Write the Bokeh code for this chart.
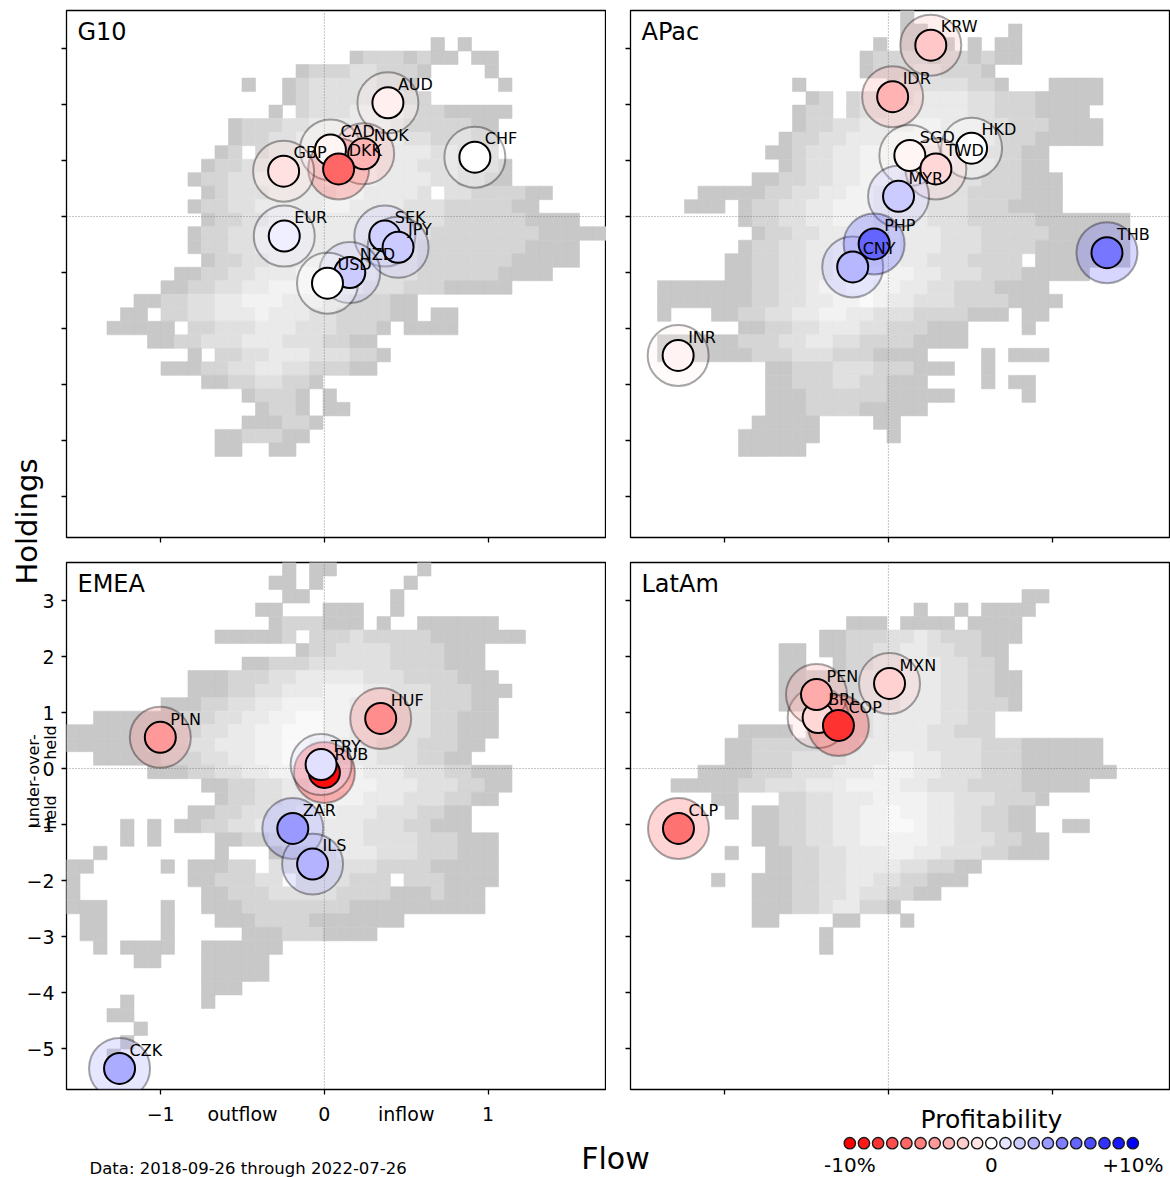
import math
from bokeh.plotting import figure
from bokeh.models import (Range1d, FixedTicker, Label, Span, ColumnDataSource,
                          LinearColorMapper)
from bokeh.layouts import row, column
from bokeh.transform import transform
from bokeh.embed import file_html
from bokeh.resources import INLINE
from bokeh.core.properties import value

FONT = "DejaVu Sans"

# ---------------- axes ----------------
X_RANGE = [-1.575, 1.723]          # Flow
Y_RANGE = [-5.732, 3.679]          # Holdings
X_TICKS = [-1, 0, 1]
X_LABEL_POS = [-1, -0.5, 0, 0.5, 1]
X_LABELS = ["\u22121", "outflow", "0", "inflow", "1"]
Y_TICKS = [-5, -4, -3, -2, -1, 0, 1, 2, 3]
Y_TICK_LABELS = ["\u22125", "\u22124", "\u22123", "\u22122", "\u22121", "0", "1", "2", "3"]
Y_SIDE_TICKS = [-0.5, 0.5]
Y_SIDE_WORDS = [["under-", "held"], ["over-", "held"]]

PANELS = ["G10", "APac", "EMEA", "LatAm"]

# ---------------- currencies ----------------
G10_CCY = ["AUD", "CAD", "NOK", "DKK", "GBP", "CHF", "EUR", "SEK", "JPY", "NZD", "USD"]
G10_FLOW = [0.388, 0.037, 0.240, 0.087, -0.249, 0.919, -0.245, 0.369, 0.450, 0.155, 0.019]
G10_HOLD = [2.03, 1.19, 1.12, 0.85, 0.81, 1.06, -0.35, -0.35, -0.55, -1.00, -1.19]
G10_PROFIT = [-0.6, -0.4, -3.0, -6.0, -1.2, 0.0, 0.6, 1.8, 2.0, 2.0, 0.0]

APAC_CCY = ["KRW", "IDR", "SGD", "HKD", "TWD", "MYR", "CNY", "PHP", "THB", "INR"]
APAC_FLOW = [0.259, 0.026, 0.131, 0.508, 0.290, 0.062, -0.218, -0.087, 1.335, -1.284]
APAC_HOLD = [3.06, 2.14, 1.09, 1.22, 0.85, 0.36, -0.90, -0.49, -0.645, -2.48]
APAC_PROFIT = [-2.2, -3.0, -0.4, 0.0, -1.6, 2.0, 2.8, 6.0, 5.3, -0.5]

EMEA_CCY = ["PLN", "HUF", "RUB", "TRY", "ZAR", "ILS", "CZK"]
EMEA_FLOW = [-1.002, 0.344, 0.000, -0.020, -0.193, -0.072, -1.251]
EMEA_HOLD = [0.557, 0.895, -0.07, 0.07, -1.07, -1.707, -5.355]
EMEA_PROFIT = [-4.0, -4.5, -9.5, 1.2, 4.0, 3.0, 3.3]

LATAM_CCY = ["MXN", "BRL", "PEN", "COP", "CLP"]
LATAM_FLOW = [0.007, -0.429, -0.439, -0.305, -1.282]
LATAM_HOLD = [1.52, 0.91, 1.32, 0.77, -1.07]
LATAM_PROFIT = [-1.8, -1.6, -3.3, -8.0, -5.5]

LEGEND_PROFIT = [-10, -9, -8, -7, -6, -5, -4, -3, -2, -1, 0, 1, 2, 3, 4, 5, 6, 7, 8, 9, 10]
LEGEND_TICKS = [-10, 0, 10]
LEGEND_TICK_LABELS = ["-10%", "0", "+10%"]

# ---------------- history density (40 cols x 39 rows, top row first) ----------------
G10_HIST = [
    "........................................",
    "........................................",
    "...........................1.1..........",
    ".....................12221211.11........",
    ".................1222332221....1........",
    ".............1..1233333221......1.......",
    "................12333333322.............",
    "...............1.2333444432211111.......",
    "............12223344444432222211........",
    "............12233444444443322211........",
    "...........12.233444555444433222........",
    "..........12233444455554443332221.......",
    ".........122334444455554444332211.......",
    "..........12333444445544443.33222211....",
    ".........12233444445544443332222211.....",
    "..........1223344444444433332222221111..",
    ".........1223344444444433332222222211111",
    ".........12233444444443333222222221111..",
    "..........1223344444443333222222211111..",
    "........1122334445554443332222221111....",
    ".......11223344555544433322211111.......",
    ".....112233445554443322211..............",
    "....11.2233444544433222211.11...........",
    "...11111.223334443332221.1111...........",
    "......11223334443332211.................",
    ".........1.2233444333221................",
    ".......1112233443322211.................",
    "..........112233221.....................",
    ".............12221.1....................",
    "..............1221.11...................",
    ".............111221.....................",
    "...........1122211......................",
    "...........11..11.......................",
]
APAC_HIST = [
    "....................1...................",
    "....................11......1...........",
    "..................1.1111.1.11...........",
    ".................122221221211...........",
    ".................1222332221.............",
    "............1......233333221...1111.....",
    ".............12.2333344443322211111.....",
    "............122.233444444332221111......",
    "............12233444455444332221111.....",
    "...........122334445555443322211111.....",
    "..........112334455554443322211.........",
    "...........12334455555443332211.........",
    ".........11223344555444333222111........",
    ".....111112233445544443332222111........",
    "....111.122334455544443332221111........",
    "........12233445554444333222221111111...",
    ".........1223344555544433322222111111...",
    "........12233445555544433322221111111...",
    ".......1122334455555443332222.1111111...",
    ".......112233445566554433322211111......",
    "..11111112233455665544332221111.........",
    "..111111122334455654433322221111........",
    "..1...1122334455443332222111.11.........",
    "........11223344433222111....1..........",
    "..11111122233443322221111...............",
    "..11111112223332221111....1.111.........",
    "..........11222333222111..1.............",
    "..........112223322111....1.11..........",
    "..........11122222211111.....1..........",
    "..........111222211111..................",
    ".........11111....11....................",
    "........111111.....1....................",
    "........11111...........................",
]
EMEA_HIST = [
    "................1.11......1.............",
    "...............11.1......1..............",
    "................11......1...............",
    "..............11...111..1...............",
    "...............1222111.1..111111........",
    "...........111112.2223222221111111......",
    ".................12233332222111.........",
    ".............112223333332222111.........",
    ".........11122233444443332222111........",
    ".........111223344455544333222111.......",
    ".......1112233445555544433322211........",
    "..111111222334455665544433322111........",
    "11111112223344556665544433322111........",
    "1111112223344455665544433322211.........",
    "..1111122233445566554443332211..........",
    "......111223344556665544433322111.......",
    "..........11223344566554443332211.......",
    "...........122334455554443332211........",
    ".........112233445554443332211..........",
    "....1.1.1122334455544433322111..........",
    "....1.1....112233444443333222111........",
    "..1........1...12233444333222111........",
    "11.....1.11122.33443333222211111........",
    "1........1122233.3333222.2221111........",
    "1.........112223333322221112111.........",
    "111....1..111222222221111111111.........",
    ".11....1...11122221111111...............",
    ".11....1.....1112221111.................",
    "..1.1111..111111........................",
    ".....11...11111.........................",
    "..........11111.........................",
    "..........111...........................",
    "....1.....1.............................",
    "...11...................................",
    ".....1..................................",
    "....1...................................",
    "...1....................................",
]
LATAM_HIST = [
    "........................................",
    "........................................",
    ".............................11.........",
    ".....................1..1.1111..........",
    "................111.1111.1111...........",
    "..............112223343222111...........",
    "...........11.11223344332211............",
    "...........11..1223344433221............",
    "...........112222334444332211...........",
    "...........111222334444332211...........",
    "...........111222333444332221...........",
    ".............12233444443322.............",
    "........1111.22233444433222.............",
    ".......1122222333444443333222111111.....",
    ".......1122233334445544333222111111.....",
    ".....1111222333444555443332221111111....",
    "...1111122333444555544333222211111......",
    "......11...22334445555443332221.........",
    ".......1.112233445565544332211..........",
    ".........112233445566544332211..11......",
    ".........1122334455555443332211.........",
    ".......1..112233444554433322111.........",
    "..........1122334444332211..............",
    "......1..1112233443322111...............",
    ".........11122334332211.................",
    ".........11122344221....................",
    ".........11....11...1...................",
    "..............1.........................",
    "..............1.........................",
]
HIST_COLS, HIST_ROWS = 40, 39
GREYS = ["#c8c8c8", "#d5d5d5", "#e0e0e0", "#eaeaea", "#f2f2f2", "#f9f9f9"]

# ---------------- layout sizes (px) ----------------
FRAME_W, FRAME_H = 540, 527
STRIP_W = 61
LEFT_W, RIGHT_W = 545, 564
LEFT_MB, RIGHT_MB = 5, 24
TOP_MB_T, TOP_MB_B = 10, 23
BOT_MB_T, BOT_MB_B = 2, 11
TOP_H = TOP_MB_T + FRAME_H + TOP_MB_B
BOT_H = BOT_MB_T + FRAME_H + BOT_MB_B
FOOT_H = 1177 - TOP_H - BOT_H
TOTAL_W = STRIP_W + LEFT_W + RIGHT_W

# ---------------- colour scales ----------------
N_PAL = 255
PROFIT_PALETTE = []
for i in range(N_PAL):
    t = i / (N_PAL - 1)
    if t <= 0.5:
        s = t / 0.5
        rgb = (255, round(255 * s), round(255 * s))
    else:
        s = (t - 0.5) / 0.5
        rgb = (round(255 * (1 - s)), round(255 * (1 - s)), 255)
    PROFIT_PALETTE.append("#%02x%02x%02x" % rgb)
profit_mapper = LinearColorMapper(palette=PROFIT_PALETTE, low=-10, high=10)
grey_mapper = LinearColorMapper(palette=GREYS, low=0.5, high=6.5)

XR = Range1d(*X_RANGE)
YR = Range1d(*Y_RANGE)
X_PPU = FRAME_W / (X_RANGE[1] - X_RANGE[0])
Y_PPU = FRAME_H / (Y_RANGE[1] - Y_RANGE[0])


def hist_source(rows):
    dx = (X_RANGE[1] - X_RANGE[0]) / HIST_COLS
    dy = (Y_RANGE[1] - Y_RANGE[0]) / HIST_ROWS
    d = dict(left=[], right=[], bottom=[], top=[], shade=[])
    for r, line in enumerate(rows[:HIST_ROWS]):
        line = (line + "." * HIST_COLS)[:HIST_COLS]
        for k, ch in enumerate(line):
            if ch in "123456":
                d["left"].append(X_RANGE[0] + k * dx)
                d["right"].append(X_RANGE[0] + (k + 1) * dx)
                d["top"].append(Y_RANGE[1] - r * dy)
                d["bottom"].append(Y_RANGE[1] - (r + 1) * dy)
                d["shade"].append(int(ch))
    return ColumnDataSource(d)


def tick_axis(ax, ticks):
    ax.ticker = FixedTicker(ticks=ticks, minor_ticks=[])
    ax.axis_line_color = None
    ax.major_tick_out = 5
    ax.major_tick_in = 0
    ax.minor_tick_out = 0
    ax.minor_tick_in = 0
    ax.major_tick_line_color = "black"
    ax.major_tick_line_width = 1.3
    ax.major_label_text_color = None
    ax.major_label_text_font_size = "1px"
    ax.major_label_standoff = 0


def bare(p):
    p.grid.visible = False
    p.outline_line_color = None
    p.background_fill_color = "white"
    p.border_fill_color = "white"


def panel(name, ccy, flow, hold, profit, hist, width, height, mb_left, mb_top, mb_bottom):
    p = figure(width=width, height=height, x_range=XR, y_range=YR, output_backend="svg",
               toolbar_location=None, title=None,
               min_border_left=mb_left, min_border_right=0,
               min_border_top=mb_top, min_border_bottom=mb_bottom)
    bare(p)
    p.outline_line_color = "black"
    p.outline_line_width = 1.3
    tick_axis(p.yaxis[0], Y_TICKS)
    tick_axis(p.xaxis[0], X_TICKS)

    hs = hist_source(hist)
    p.quad(left="left", right="right", bottom="bottom", top="top", source=hs,
           fill_color=transform("shade", grey_mapper),
           line_color=transform("shade", grey_mapper), line_width=0.6, level="image")

    for dim in ("width", "height"):
        p.add_layout(Span(location=0, dimension=dim, line_color="#808080",
                          line_width=0.9, line_dash="1 2", level="underlay"))

    src = ColumnDataSource(dict(x=flow, y=hold, name=ccy, profit=profit))
    p.scatter("x", "y", source=src, size=61, marker="circle",
              fill_color=transform("profit", profit_mapper), fill_alpha=0.3,
              line_color="black", line_alpha=0.35, line_width=2)
    p.scatter("x", "y", source=src, size=31, marker="circle",
              fill_color=transform("profit", profit_mapper), fill_alpha=1.0,
              line_color="black", line_width=2)
    p.text("x", "y", text="name", source=src, x_offset=10, y_offset=-18.3,
           text_font=value(FONT), text_font_size="16px", text_color="black",
           text_align="left", text_baseline="middle")

    p.add_layout(Label(x=11, y=FRAME_H - 21, x_units="screen", y_units="screen", text=name,
                       text_font=FONT, text_font_size="24px", text_color="black",
                       text_baseline="middle", text_align="left"))
    return p


tl = panel(PANELS[0], G10_CCY, G10_FLOW, G10_HOLD, G10_PROFIT, G10_HIST,
           LEFT_W, TOP_H, LEFT_MB, TOP_MB_T, TOP_MB_B)
tr = panel(PANELS[1], APAC_CCY, APAC_FLOW, APAC_HOLD, APAC_PROFIT, APAC_HIST,
           RIGHT_W, TOP_H, RIGHT_MB, TOP_MB_T, TOP_MB_B)
bl = panel(PANELS[2], EMEA_CCY, EMEA_FLOW, EMEA_HOLD, EMEA_PROFIT, EMEA_HIST,
           LEFT_W, BOT_H, LEFT_MB, BOT_MB_T, BOT_MB_B)
br = panel(PANELS[3], LATAM_CCY, LATAM_FLOW, LATAM_HOLD, LATAM_PROFIT, LATAM_HIST,
           RIGHT_W, BOT_H, RIGHT_MB, BOT_MB_T, BOT_MB_B)

# ---------------- left strip: Holdings label + y tick labels (same holdings scale) ----------------
strip_y = Range1d(Y_RANGE[0] - BOT_MB_B / Y_PPU,
                  Y_RANGE[1] + (TOP_H + BOT_MB_T) / Y_PPU)
strip = figure(width=STRIP_W, height=TOP_H + BOT_H, x_range=Range1d(0, STRIP_W), y_range=strip_y,
               output_backend="svg", toolbar_location=None, title=None,
               x_axis_location=None, y_axis_location=None,
               min_border_left=0, min_border_right=0, min_border_top=0, min_border_bottom=0)
bare(strip)
for yv, lab in zip(Y_TICKS, Y_TICK_LABELS):
    strip.add_layout(Label(x=54, y=yv, x_units="screen", y_units="data", text=lab,
                           text_font=FONT, text_font_size="19px", text_color="black",
                           text_align="right", text_baseline="middle"))
# two-line rotated side labels: first word column, then "held" column (pixel shifts along y)
SIDE_SHIFT = [[-5, -16], [-14, -2]]
for yv, words, shifts in zip(Y_SIDE_TICKS, Y_SIDE_WORDS, SIDE_SHIFT):
    for word, xpos, sh in zip(words, (33, 49.5), shifts):
        strip.add_layout(Label(x=xpos, y=yv + sh / Y_PPU, x_units="screen", y_units="data",
                               text=word, angle=math.pi / 2, text_font=FONT,
                               text_font_size="16px", text_color="black",
                               text_align="center", text_baseline="middle"))
strip.add_layout(Label(x=26, y=TOP_H + BOT_H - 521, x_units="screen", y_units="screen",
                       text="Holdings", angle=math.pi / 2, text_font=FONT,
                       text_font_size="29px", text_color="black",
                       text_align="center", text_baseline="middle"))

# ---------------- footer: x tick labels, Flow, data note, profitability legend ----------------
PROFIT_PPU = 14.15
LEG_X0 = 849.3
foot = figure(width=TOTAL_W, height=FOOT_H,
              x_range=Range1d(X_RANGE[0] - (STRIP_W + LEFT_MB) / X_PPU,
                              X_RANGE[0] + (TOTAL_W - STRIP_W - LEFT_MB) / X_PPU),
              y_range=Range1d(0, FOOT_H), output_backend="svg", toolbar_location=None,
              title=None, x_axis_location=None, y_axis_location=None,
              min_border_left=0, min_border_right=0, min_border_top=0, min_border_bottom=0)
foot.extra_x_ranges = {"profit": Range1d(LEGEND_PROFIT[0] - LEG_X0 / PROFIT_PPU,
                                         LEGEND_PROFIT[0] + (TOTAL_W - LEG_X0) / PROFIT_PPU)}
bare(foot)
for xv, lab in zip(X_LABEL_POS, X_LABELS):
    foot.add_layout(Label(x=xv, y=FOOT_H - 13, x_units="data", y_units="screen", text=lab,
                          text_font=FONT, text_font_size="19px", text_color="black",
                          text_align="center", text_baseline="middle"))

leg = ColumnDataSource(dict(x=LEGEND_PROFIT, y=[FOOT_H - 42.7] * len(LEGEND_PROFIT),
                            profit=LEGEND_PROFIT))
foot.scatter("x", "y", source=leg, size=11.3, marker="circle", x_range_name="profit",
             fill_color=transform("profit", profit_mapper),
             line_color="#1a1a1a", line_width=1.4)
legt = ColumnDataSource(dict(x=LEGEND_TICKS, y=[12.6] * len(LEGEND_TICKS), t=LEGEND_TICK_LABELS))
foot.text("x", "y", text="t", source=legt, x_range_name="profit",
          text_font=value(FONT), text_font_size="20px",
          text_color="black", text_align="center", text_baseline="middle")
foot.add_layout(Label(x=991, y=58, x_units="screen", y_units="screen", text="Profitability",
                      text_font=FONT, text_font_size="25px", text_color="black",
                      text_align="center", text_baseline="middle"))
foot.add_layout(Label(x=615, y=18.7, x_units="screen", y_units="screen", text="Flow",
                      text_font=FONT, text_font_size="30px", text_color="black",
                      text_align="center", text_baseline="middle"))
foot.add_layout(Label(x=89, y=9.3, x_units="screen", y_units="screen",
                      text="Data: 2018-09-26 through 2022-07-26",
                      text_font=FONT, text_font_size="16.5px", text_color="black",
                      text_align="left", text_baseline="middle"))

grid = column(row(tl, tr), row(bl, br))
layout = column(row(strip, grid), foot)

open("out.html", "w").write(file_html(layout, INLINE))
